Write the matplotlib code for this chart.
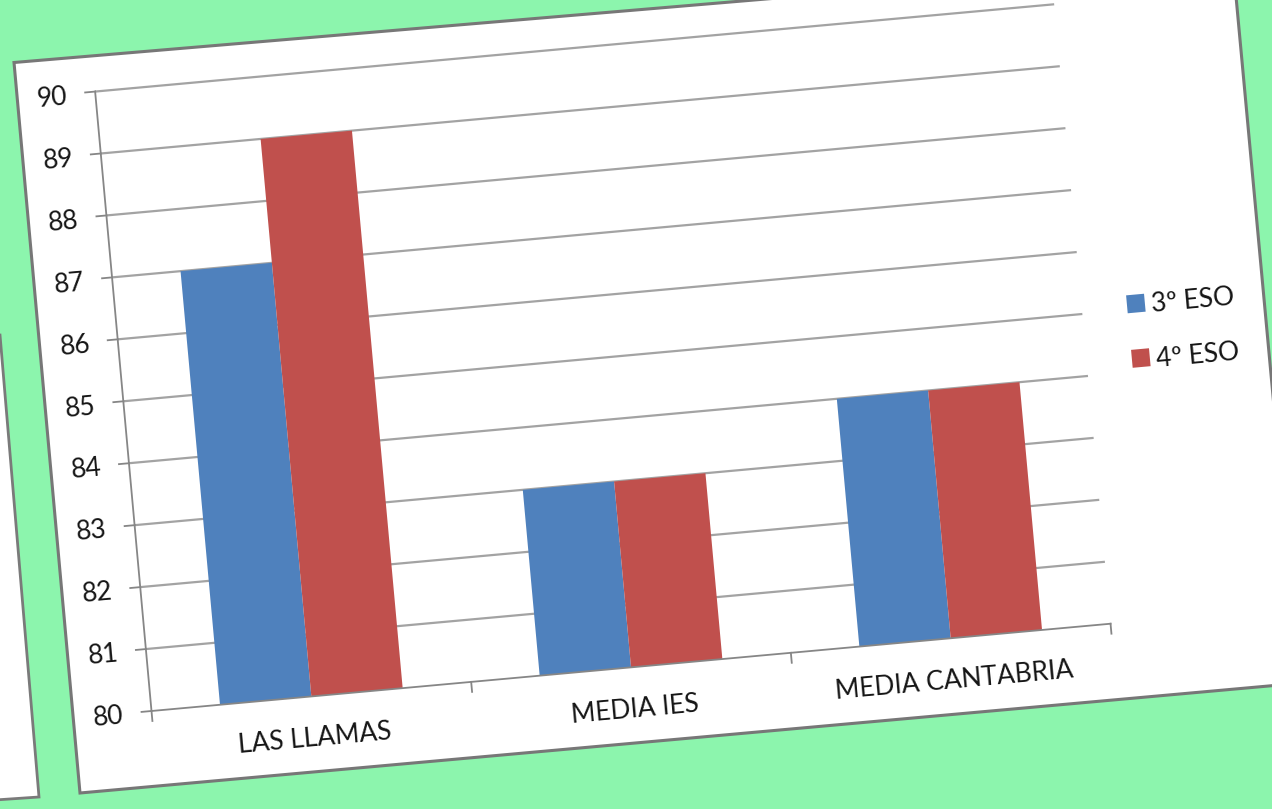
import matplotlib
matplotlib.use('Agg')
import matplotlib.pyplot as plt
from matplotlib.transforms import Affine2D
from matplotlib.patches import Polygon, Rectangle

# ---------------- data ----------------
categories = ['LAS LLAMAS', 'MEDIA IES', 'MEDIA CANTABRIA']
series_names = ['3º ESO', '4º ESO']
eso3 = [87.0, 83.0, 84.0]
eso4 = [89.0, 83.0, 84.0]
y_ticks = [80, 81, 82, 83, 84, 85, 86, 87, 88, 89, 90]
y_min, y_max = 80, 90

colors = ['#4F81BD', '#C0504D']

W, H = 1272, 809
fig = plt.figure(figsize=(W / 100, H / 100), dpi=100)
fig.patch.set_facecolor('#8cf5ad')
base = fig.add_axes([0, 0, 1, 1])
base.set_facecolor('#8cf5ad')
base.axis('off')

def px(x, y):
    return (x, H - y)

# paper behind, at left
base.add_patch(Polygon([px(-5, 335), px(0, 335), px(39, 797), px(-5, 800)], closed=True,
                       fc='white', ec='#7a7a7a', lw=2, zorder=1))
# main paper
base.add_patch(Polygon([px(14, 62.5), px(1232.6, -40.4), px(1299.6, 683.2), px(80, 793)],
                       closed=True, fc='white', ec='#777777', lw=2.2, zorder=1))

# chart frame transform: (category index, value) -> figure pixels
angle = 5.2
ux, uy = 321.0, 62.2
T = (Affine2D().translate(0.5, -y_min).scale(ux, uy).rotate_deg(angle)
     .translate(151.5, H - 711) + base.transData)

n = len(categories)
xs = list(range(n))
w = 1.0 / 3.5

# gridlines
for v in y_ticks[1:]:
    base.plot([-0.5, n - 0.5], [v, v], transform=T, color='#a3a3a3', lw=1.6,
              zorder=2, solid_capstyle='butt')

# bars
base.bar([x - w / 2 for x in xs], [v - y_min for v in eso3], width=w, bottom=y_min,
         color=colors[0], transform=T, zorder=3, linewidth=0)
base.bar([x + w / 2 for x in xs], [v - y_min for v in eso4], width=w, bottom=y_min,
         color=colors[1], transform=T, zorder=3, linewidth=0)

# axes lines
tick_x = 10.0 / ux
tick_y = 10.0 / uy
axc = '#868686'
base.plot([-0.5, -0.5], [y_min - tick_y, y_max], transform=T, color=axc, lw=1.3, zorder=4)
base.plot([-0.5, n - 0.5], [y_min, y_min], transform=T, color=axc, lw=1.3, zorder=4)
for v in y_ticks:
    base.plot([-0.5 - tick_x, -0.5], [v, v], transform=T, color=axc, lw=1.3, zorder=4)
for b in [0.5 + i for i in range(n)]:
    base.plot([b, b], [y_min - tick_y, y_min], transform=T, color=axc, lw=1.3, zorder=4)

fs = 19
txtc = '#151515'
font = ['Lato', 'DejaVu Sans']
# y tick labels
for v in y_ticks:
    base.text(-0.5 - 28.0 / ux, v, str(v), transform=T, rotation=angle,
              rotation_mode='anchor', ha='right', va='center_baseline',
              fontsize=fs, color=txtc, family=font, zorder=5)
# category labels
for x, c in zip(xs, categories):
    base.text(x, y_min - 40.0 / uy, c, transform=T, rotation=angle,
              rotation_mode='anchor', ha='center', va='center_baseline',
              fontsize=fs, color=txtc, family=font, zorder=5)

# legend
leg_x = 2.669
leg_y = [85.09, 84.21]
sq = 18.0
for name, col, ly in zip(series_names, colors, leg_y):
    base.add_patch(Rectangle((leg_x - sq / 2 / ux, ly - sq / 2 / uy), sq / ux, sq / uy,
                             fc=col, ec='none', transform=T, zorder=5))
    base.text(leg_x + (sq / 2 + 6) / ux, ly, name, transform=T, rotation=angle,
              rotation_mode='anchor', ha='left', va='center_baseline',
              fontsize=fs, color=txtc, family=font, zorder=5)

base.set_xlim(0, W)
base.set_ylim(0, H)
fig.savefig('out.png', dpi=100, facecolor=fig.get_facecolor())
